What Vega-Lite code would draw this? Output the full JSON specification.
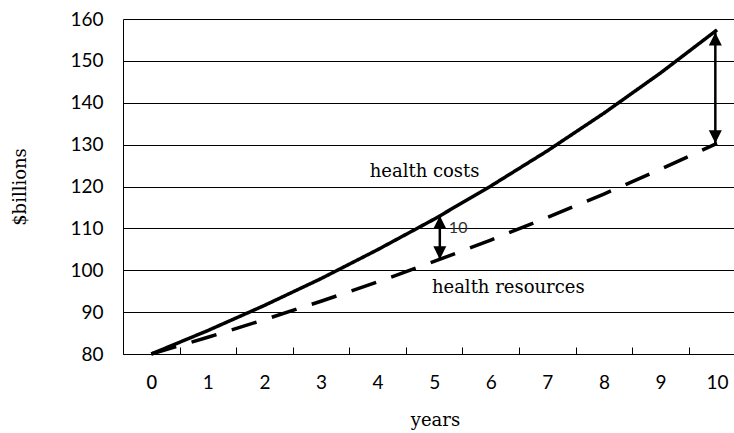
{
  "$schema": "https://vega.github.io/schema/vega-lite/v6.json",
  "width": 611,
  "height": 335,
  "autosize": {"type": "none"},
  "padding": {"left": 123, "top": 19, "right": 0, "bottom": 79},
  "background": "white",
  "config": {"view": {"stroke": null}},
  "datasets": {
    "series": [
      {"year": 0, "value": 80, "series": "health costs"},
      {"year": 1, "value": 85.6, "series": "health costs"},
      {"year": 2, "value": 91.6, "series": "health costs"},
      {"year": 3, "value": 98.0, "series": "health costs"},
      {"year": 4, "value": 104.9, "series": "health costs"},
      {"year": 5, "value": 112.2, "series": "health costs"},
      {"year": 6, "value": 120.1, "series": "health costs"},
      {"year": 7, "value": 128.5, "series": "health costs"},
      {"year": 8, "value": 137.5, "series": "health costs"},
      {"year": 9, "value": 147.1, "series": "health costs"},
      {"year": 10, "value": 157.4, "series": "health costs"},
      {"year": 0, "value": 80, "series": "health resources"},
      {"year": 1, "value": 84.0, "series": "health resources"},
      {"year": 2, "value": 88.2, "series": "health resources"},
      {"year": 3, "value": 92.6, "series": "health resources"},
      {"year": 4, "value": 97.2, "series": "health resources"},
      {"year": 5, "value": 102.1, "series": "health resources"},
      {"year": 6, "value": 107.2, "series": "health resources"},
      {"year": 7, "value": 112.6, "series": "health resources"},
      {"year": 8, "value": 118.2, "series": "health resources"},
      {"year": 9, "value": 124.1, "series": "health resources"},
      {"year": 10, "value": 130.3, "series": "health resources"}
    ],
    "arrows": [
      {"x": 5.1, "low": 102.6, "high": 113.0},
      {"x": 9.97, "low": 130.3, "high": 156.8}
    ],
    "labels": [
      {"x": 3.86, "y": 123.5, "text": "health costs"},
      {"x": 4.96, "y": 95.8, "text": "health resources"}
    ],
    "gap": [
      {"x": 5.26, "y": 110.1, "text": "10"}
    ]
  },
  "encoding": {
    "x": {
      "field": "year",
      "type": "quantitative",
      "scale": {"domain": [-0.5, 10.3], "nice": false, "zero": false},
      "axis": {
        "title": "years",
        "values": [-0.5, 0.5, 1.5, 2.5, 3.5, 4.5, 5.5, 6.5, 7.5, 8.5, 9.5],
        "labelExpr": "format(datum.value + 0.5, 'd')",
        "labelOffset": 28.3,
        "labelFlush": false,
        "labelOverlap": false,
        "labelBound": false,
        "tickSize": -7,
        "tickColor": "black",
        "tickWidth": 1,
        "grid": false,
        "domainColor": "black",
        "domainWidth": 1,
        "labelFont": {"condition": {"test": "datum.value < 0", "value": "DejaVu Sans"}, "value": "Lato"},
        "labelFontSize": 19,
        "labelColor": "black",
        "labelPadding": 26,
        "titleFont": "DejaVu Serif",
        "titleFontSize": 18,
        "titleFontWeight": "normal",
        "titleColor": "black",
        "titlePadding": 19,
        "titleX": 312
      }
    },
    "y": {
      "field": "value",
      "type": "quantitative",
      "scale": {"domain": [80, 160], "nice": false, "zero": false},
      "axis": {
        "title": "$billions",
        "values": [80, 90, 100, 110, 120, 130, 140, 150, 160],
        "grid": true,
        "gridColor": "black",
        "gridOpacity": 1,
        "gridWidth": 1,
        "ticks": false,
        "domainColor": "black",
        "domainWidth": 1,
        "labelFont": "Lato",
        "labelFontSize": 19,
        "labelColor": "black",
        "labelPadding": 20,
        "labelOverlap": false,
        "titleFont": "DejaVu Serif",
        "titleFontSize": 18,
        "titleFontWeight": "normal",
        "titleColor": "black",
        "titlePadding": 40
      }
    }
  },
  "layer": [
    {
      "data": {"name": "series"},
      "mark": {"type": "line", "color": "black", "strokeWidth": 3.5, "strokeCap": "butt"},
      "encoding": {
        "strokeDash": {
          "field": "series",
          "type": "nominal",
          "scale": {"domain": ["health costs", "health resources"], "range": [[1, 0], [26, 16]]},
          "legend": null
        }
      }
    },
    {
      "data": {"name": "arrows"},
      "mark": {"type": "rule", "color": "black", "strokeWidth": 2.5},
      "encoding": {
        "x": {"field": "x", "type": "quantitative"},
        "y": {"field": "low", "type": "quantitative"},
        "y2": {"field": "high"}
      }
    },
    {
      "data": {"name": "arrows"},
      "mark": {"type": "point", "shape": "M0,0L-0.5,1L0.5,1Z", "size": 676, "filled": true, "color": "black", "opacity": 1, "strokeWidth": 0},
      "encoding": {
        "x": {"field": "x", "type": "quantitative"},
        "y": {"field": "high", "type": "quantitative"}
      }
    },
    {
      "data": {"name": "arrows"},
      "mark": {"type": "point", "shape": "M0,0L-0.5,-1L0.5,-1Z", "size": 676, "filled": true, "color": "black", "opacity": 1, "strokeWidth": 0},
      "encoding": {
        "x": {"field": "x", "type": "quantitative"},
        "y": {"field": "low", "type": "quantitative"}
      }
    },
    {
      "data": {"name": "labels"},
      "mark": {"type": "text", "align": "left", "baseline": "middle", "font": "DejaVu Serif", "fontSize": 18, "color": "black"},
      "encoding": {
        "x": {"field": "x", "type": "quantitative"},
        "y": {"field": "y", "type": "quantitative"},
        "text": {"field": "text", "type": "nominal"}
      }
    },
    {
      "data": {"name": "gap"},
      "mark": {"type": "text", "align": "left", "baseline": "middle", "font": "Lato", "fontSize": 16, "color": "#333333"},
      "encoding": {
        "x": {"field": "x", "type": "quantitative"},
        "y": {"field": "y", "type": "quantitative"},
        "text": {"field": "text", "type": "nominal"}
      }
    }
  ]
}
